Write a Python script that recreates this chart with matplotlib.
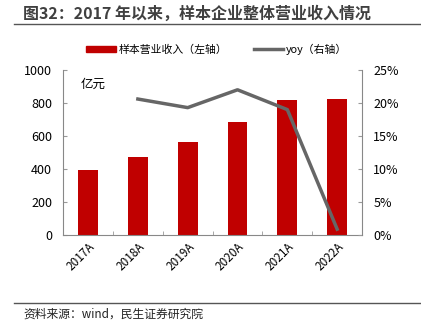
import matplotlib
matplotlib.use('Agg')
import matplotlib.pyplot as plt
import numpy as np
from matplotlib.lines import Line2D

plt.rcParams['font.family'] = ['Noto Sans CJK SC', 'DejaVu Sans']

years = ['2017A', '2018A', '2019A', '2020A', '2021A', '2022A']
revenue = [393, 474, 565, 686, 818, 824]
yoy_years = ['2018A', '2019A', '2020A', '2021A', '2022A']
yoy = [20.6, 19.3, 22.0, 19.0, 0.9]

fig = plt.figure(figsize=(4.21, 3.27), dpi=100)
ax = fig.add_axes([0.150, 0.281, 0.710, 0.505])
x = np.arange(len(years))
bars = ax.bar(x, revenue, width=0.4, color='#C00000', label='样本营业收入（左轴）', zorder=2)
ax.set_ylim(0, 1000)
ax.set_xlim(-0.5, len(years) - 0.5)
ax.set_yticks(range(0, 1001, 200))
ax.set_xticks(x)
ax.set_xticklabels(years, rotation=45, ha='right', rotation_mode='anchor', fontsize=8.5)
ax.set_xticks(np.arange(-0.5, len(years), 1), minor=True)
ax.tick_params(axis='x', which='major', length=0)
ax.tick_params(axis='x', which='minor', length=3, direction='in', color='#999999')
ax.tick_params(axis='y', labelsize=9, direction='in', length=3, color='#999999', pad=8)
for s in ['top', 'right']:
    ax.spines[s].set_visible(False)
for s in ['left', 'bottom']:
    ax.spines[s].set_color('#888888')
ax.text(0.06, 0.95, '亿元', transform=ax.transAxes, fontsize=9, va='top', ha='left')

ax2 = ax.twinx()
xi = [years.index(y) for y in yoy_years]
ax2.plot(xi, yoy, color='#666666', lw=2.5, label='yoy（右轴）', zorder=3)
ax2.set_ylim(0, 25)
ax2.set_yticks(range(0, 26, 5))
ax2.set_yticklabels([f'{v}%' for v in range(0, 26, 5)])
ax2.tick_params(axis='y', labelsize=9, direction='in', length=3, color='#999999', pad=8)
for s in ['top', 'left', 'bottom']:
    ax2.spines[s].set_visible(False)
ax2.spines['right'].set_color('#888888')

h1 = [plt.Rectangle((0, 0), 1, 1, color='#C00000')]
h2 = [Line2D([0], [0], color='#666666', lw=2.5)]
fig.legend(h1 + h2, ['样本营业收入（左轴）', 'yoy（右轴）'], loc='center', bbox_to_anchor=(0.515, 0.850),
           ncol=2, frameon=False, fontsize=7.8, handlelength=2.7, handleheight=0.45,
           handletextpad=0.3, columnspacing=2.4)

fig.text(0.055, 0.957, '图32：2017 年以来，样本企业整体营业收入情况', fontsize=11.5, fontweight='bold',
         color='#404040', va='center', ha='left')
fig.add_artist(Line2D([0.033, 1.0], [0.926, 0.926], color='#555555', lw=1))
fig.add_artist(Line2D([0.033, 1.0], [0.073, 0.073], color='#555555', lw=1))
fig.text(0.055, 0.040, '资料来源：wind，民生证券研究院', fontsize=8.5, va='center', ha='left', color='#222222')

fig.savefig('out.png', dpi=100)
